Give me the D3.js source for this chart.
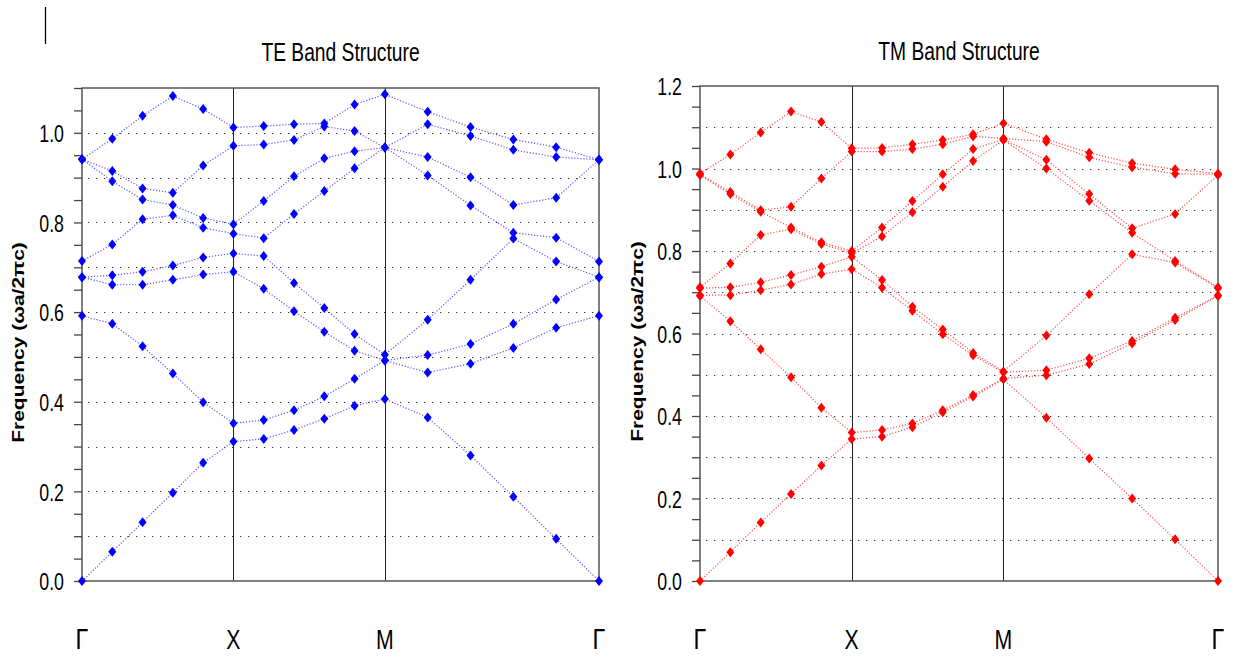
<!DOCTYPE html>
<html>
<head>
<meta charset="utf-8">
<script src="https://cdn.jsdelivr.net/npm/d3@7"></script>
<style>
body { margin: 0; background: #fff; }
svg { display: block; }
text { font-family: "Liberation Sans", Arial, sans-serif; }
</style>
</head>
<body>
<svg class="chart" width="1234" height="659"></svg>
<script>
// path coordinate of every k-point (Γ-X, X-M, M-Γ)
var kPos = [0, 0.2, 0.4, 0.6, 0.8, 1.0, 1.2, 1.4, 1.6, 1.8, 2.0,
            2.2828, 2.5657, 2.8485, 3.1314, 3.4142];
var kLabels = ["Γ", "X", "M", "Γ"];
var kLabelPos = [0, 1, 2, 3.4142];

// TE bands, one array per band (ωa/2πc)
var te1 = [0, 0.065, 0.131, 0.197, 0.264, 0.311, 0.317, 0.337, 0.362, 0.391, 0.406, 0.365, 0.280, 0.188, 0.094, 0];
var te2 = [0.592, 0.574, 0.524, 0.463, 0.399, 0.352, 0.359, 0.381, 0.412, 0.451, 0.492, 0.465, 0.485, 0.520, 0.565, 0.592];
var te3 = [0.678, 0.661, 0.661, 0.672, 0.684, 0.690, 0.652, 0.602, 0.556, 0.514, 0.492, 0.504, 0.529, 0.574, 0.628, 0.678];
var te4 = [0.678, 0.682, 0.690, 0.704, 0.722, 0.731, 0.725, 0.665, 0.609, 0.551, 0.505, 0.583, 0.672, 0.764, 0.713, 0.678];
var te5 = [0.714, 0.751, 0.807, 0.816, 0.788, 0.775, 0.765, 0.819, 0.870, 0.921, 0.967, 0.905, 0.838, 0.777, 0.766, 0.713];
var te6 = [0.941, 0.892, 0.851, 0.839, 0.810, 0.796, 0.848, 0.903, 0.943, 0.959, 0.967, 0.946, 0.901, 0.839, 0.855, 0.940];
var te7 = [0.941, 0.915, 0.876, 0.866, 0.927, 0.971, 0.974, 0.984, 1.014, 1.004, 0.967, 1.019, 0.993, 0.962, 0.946, 0.940];
var te8 = [0.941, 0.987, 1.038, 1.082, 1.053, 1.012, 1.015, 1.019, 1.021, 1.063, 1.086, 1.047, 1.013, 0.985, 0.968, 0.940];

// TM bands
var tm1 = [0, 0.070, 0.142, 0.211, 0.280, 0.344, 0.350, 0.373, 0.409, 0.447, 0.489, 0.396, 0.297, 0.200, 0.101, 0];
var tm2 = [0.691, 0.630, 0.562, 0.494, 0.420, 0.360, 0.366, 0.382, 0.414, 0.451, 0.491, 0.499, 0.526, 0.576, 0.633, 0.691];
var tm3 = [0.693, 0.693, 0.705, 0.719, 0.744, 0.756, 0.711, 0.655, 0.598, 0.547, 0.506, 0.511, 0.540, 0.582, 0.638, 0.693];
var tm4 = [0.710, 0.712, 0.724, 0.742, 0.762, 0.786, 0.730, 0.665, 0.610, 0.553, 0.508, 0.595, 0.695, 0.792, 0.772, 0.710];
var tm5 = [0.712, 0.770, 0.839, 0.853, 0.817, 0.795, 0.835, 0.894, 0.956, 1.018, 1.069, 1.000, 0.922, 0.844, 0.776, 0.712];
var tm6 = [0.984, 0.938, 0.895, 0.857, 0.821, 0.800, 0.857, 0.921, 0.986, 1.047, 1.071, 1.021, 0.938, 0.855, 0.890, 0.984];
var tm7 = [0.986, 0.943, 0.899, 0.907, 0.976, 1.041, 1.041, 1.047, 1.059, 1.078, 1.073, 1.065, 1.027, 1.003, 0.987, 0.986];
var tm8 = [0.988, 1.034, 1.087, 1.138, 1.113, 1.049, 1.050, 1.059, 1.069, 1.083, 1.110, 1.071, 1.038, 1.013, 0.998, 0.988];

var teTicks = [0, 0.05, 0.1, 0.15, 0.2, 0.25, 0.3, 0.35, 0.4, 0.45, 0.5, 0.55, 0.6, 0.65, 0.7, 0.75, 0.8, 0.85, 0.9, 0.95, 1.0, 1.05, 1.1];
var tmTicks = teTicks.concat([1.15, 1.2]);
var teGrid = [0.1, 0.2, 0.3, 0.4, 0.5, 0.6, 0.7, 0.8, 0.9, 1.0];
var tmGrid = teGrid.concat([1.1]);
var labelTicks = [0, 0.2, 0.4, 0.6, 0.8, 1.0, 1.2];

function show() {
    'use strict';
    var svg = d3.select(".chart");

    // little stray mark at top left of the reference
    svg.append("line")
        .attr("x1", 45.5).attr("x2", 45.5)
        .attr("y1", 7).attr("y2", 44)
        .attr("stroke", "#000").attr("stroke-width", 1.3);

    drawPanel(svg, {
        left: 82, right: 599, top: 88, bottom: 581, yMax: 1.1,
        title: "TE Band Structure", titleY: 61,
        bands: [te1, te2, te3, te4, te5, te6, te7, te8],
        ticks: teTicks, grid: teGrid,
        mark: "#0000ff", line: "#3a3aff", yTitleX: 18
    });
    drawPanel(svg, {
        left: 700, right: 1218, top: 86, bottom: 581, yMax: 1.2,
        title: "TM Band Structure", titleY: 60,
        bands: [tm1, tm2, tm3, tm4, tm5, tm6, tm7, tm8],
        ticks: tmTicks, grid: tmGrid,
        mark: "#ff0000", line: "#ff3030", yTitleX: 637
    });
}

function drawPanel(svg, o) {
    var x = d3.scaleLinear().domain([0, kPos[kPos.length - 1]]).range([o.left, o.right]);
    var y = d3.scaleLinear().domain([0, o.yMax]).range([o.bottom, o.top]);
    var g = svg.append("g");

    // dotted horizontal grid
    g.selectAll(".grid").data(o.grid).enter()
        .append("line")
        .attr("x1", o.left + 6).attr("x2", o.right)
        .attr("y1", function(d) { return Math.round(y(d)) + 0.5; })
        .attr("y2", function(d) { return Math.round(y(d)) + 0.5; })
        .attr("stroke", "#333")
        .attr("stroke-width", 1.2)
        .attr("stroke-dasharray", "1.3,6.7");

    // symmetry point verticals
    g.selectAll(".sym").data(kLabelPos.slice(1, 3)).enter()
        .append("line")
        .attr("x1", function(d) { return Math.round(x(d)) + 0.5; })
        .attr("x2", function(d) { return Math.round(x(d)) + 0.5; })
        .attr("y1", o.top).attr("y2", o.bottom)
        .attr("stroke", "#222").attr("stroke-width", 1);

    // frame
    g.append("rect")
        .attr("x", o.left).attr("y", o.top)
        .attr("width", o.right - o.left).attr("height", o.bottom - o.top)
        .attr("fill", "none").attr("stroke", "#555").attr("stroke-width", 1.5);

    // y axis with ticks every 0.05
    var axis = d3.axisLeft(y)
        .tickValues(o.ticks)
        .tickSize(8)
        .tickFormat(function(d) {
            return labelTicks.some(function(v) { return Math.abs(v - d) < 1e-6; }) ? d.toFixed(1) : "";
        });
    var ax = g.append("g")
        .attr("transform", "translate(" + o.left + ",0)")
        .call(axis);
    ax.select(".domain").remove();
    ax.selectAll(".tick line").attr("stroke", "#444").attr("stroke-width", 1.3);
    ax.selectAll(".tick text")
        .attr("x", null).attr("dy", "0.36em")
        .attr("transform", "translate(-18,0) scale(0.74,1)")
        .attr("font-size", 24)
        .attr("font-family", "Liberation Sans, Arial, sans-serif")
        .attr("fill", "#000");

    // band lines
    var line = d3.line()
        .x(function(d, i) { return x(kPos[i]); })
        .y(function(d) { return y(d); });
    g.selectAll(".band").data(o.bands).enter()
        .append("path")
        .attr("d", line)
        .attr("fill", "none")
        .attr("stroke", o.line)
        .attr("stroke-opacity", 0.85)
        .attr("stroke-width", 1.2)
        .attr("stroke-dasharray", "1.2,1.8");

    // diamond markers
    var pts = [];
    o.bands.forEach(function(b) {
        b.forEach(function(v, i) { pts.push([kPos[i], v]); });
    });
    g.selectAll(".pt").data(pts).enter()
        .append("path")
        .attr("d", "M0,-5L4,0L0,5L-4,0Z")
        .attr("transform", function(d) { return "translate(" + x(d[0]) + "," + y(d[1]) + ")"; })
        .attr("fill", o.mark);

    // title
    g.append("text")
        .attr("transform", "translate(" + ((o.left + o.right) / 2) + "," + o.titleY + ") scale(0.77,1)")
        .attr("text-anchor", "middle")
        .attr("font-size", 25)
        .text(o.title);

    // y title
    g.append("text")
        .attr("transform", "translate(" + o.yTitleX + "," + ((o.top + o.bottom) / 2 + 8) + ") scale(0.77,1) rotate(-90)")
        .attr("text-anchor", "middle")
        .attr("dy", "0.35em")
        .attr("font-size", 21)
        .attr("font-weight", "bold")
        .text("Frequency (ωa/2πc)");

    // k-point labels
    g.selectAll(".klab").data(kLabels).enter()
        .append("text")
        .attr("transform", function(d, i) {
            return "translate(" + x(kLabelPos[i]) + ",649) scale(" + (d === "Γ" ? 0.8 : 0.76) + ",1)";
        })
        .attr("text-anchor", "middle")
        .attr("font-size", function(d) { return d === "Γ" ? 29 : 28; })
        .attr("font-family", function(d) { return d === "Γ" ? "Liberation Serif, serif" : "Liberation Sans, Arial, sans-serif"; })
        .text(function(d) { return d; });
}

show();
</script>
</body>
</html>
